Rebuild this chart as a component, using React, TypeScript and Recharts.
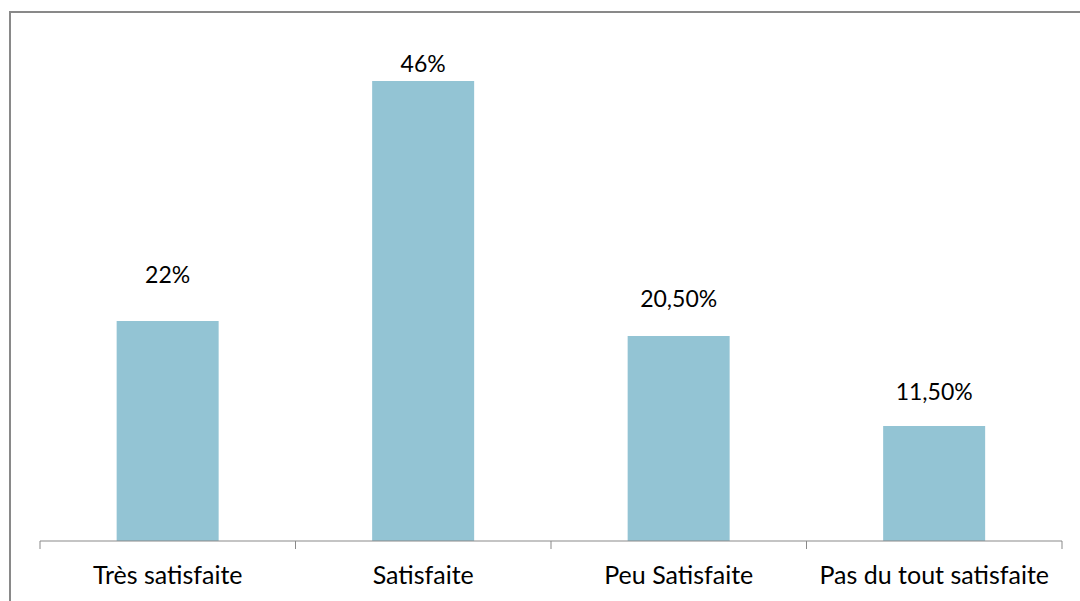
import React from "react";
import { BarChart, Bar, XAxis, YAxis, LabelList } from "recharts";

// Satisfaction survey results
const categories = ["Très satisfaite", "Satisfaite", "Peu Satisfaite", "Pas du tout satisfaite"];
const shares = [22, 46, 20.5, 11.5];
const shareLabels = ["22%", "46%", "20,50%", "11,50%"];

const data = categories.map((name, i) => ({ name, value: shares[i], label: shareLabels[i] }));

const FONT = "Lato, 'Open Sans', sans-serif";
const TEXT_COLOR = "#000000";
const AXIS_COLOR = "#898989";
const BAR_COLOR = "#93C4D4";
const LABEL_SIZE = 23;
const TICK_SIZE_TEXT = 25;
const TICK_MARGIN = 25;
const TICK_LENGTH = 8;

// Hand-placed label heights above each bar (gap between bar top and text baseline)
const labelGaps = [38, 9, 29, 26];

const ValueLabel = (props: any) => {
  const { x, y, width, index, value } = props;
  const gap = labelGaps[index] ?? 10;
  return (
    <text
      x={Number(x) + Number(width) / 2}
      y={Number(y) - gap}
      textAnchor="middle"
      fontFamily={FONT}
      fontSize={LABEL_SIZE}
      fill={TEXT_COLOR}
    >
      {value}
    </text>
  );
};

// Category name plus tick marks on the band boundaries
const CategoryTick = (props: any) => {
  const { x, y, payload, width, visibleTicksCount, index } = props;
  const half = Number(width) / Number(visibleTicksCount) / 2;
  const axisY = Number(y) - TICK_MARGIN;
  const last = index === visibleTicksCount - 1;
  return (
    <g>
      <line x1={x - half} x2={x - half} y1={axisY} y2={axisY + TICK_LENGTH} stroke={AXIS_COLOR} strokeWidth={1} />
      {last && (
        <line x1={x + half} x2={x + half} y1={axisY} y2={axisY + TICK_LENGTH} stroke={AXIS_COLOR} strokeWidth={1} />
      )}
      <text
        x={x}
        y={y}
        dy={TICK_SIZE_TEXT * 0.72}
        textAnchor="middle"
        fontFamily={FONT}
        fontSize={TICK_SIZE_TEXT}
        fill={TEXT_COLOR}
      >
        {payload.value}
      </text>
    </g>
  );
};

export default function App() {
  return (
    <div
      style={{
        position: "fixed",
        left: 0,
        top: 0,
        width: 1080,
        height: 601,
        overflow: "hidden",
        background: "#ffffff",
      }}
    >
      <div
        style={{
          position: "absolute",
          left: 9,
          top: 11,
          width: 1200,
          height: 700,
          border: `2px solid ${AXIS_COLOR}`,
          boxSizing: "border-box",
        }}
      />
      <div style={{ position: "absolute", left: 0, top: 0 }}>
        <BarChart
          width={1080}
          height={601}
          data={data}
          margin={{ top: 41, right: 18, bottom: 0, left: 40 }}
          barCategoryGap="30%"
        >
          <XAxis
            dataKey="name"
            height={60}
            tickLine={false}
            tickSize={0}
            tickMargin={TICK_MARGIN}
            axisLine={{ stroke: AXIS_COLOR, strokeWidth: 1 }}
            tick={<CategoryTick />}
            interval={0}
          />
          <YAxis hide domain={[0, 50]} />
          <Bar dataKey="value" fill={BAR_COLOR} isAnimationActive={false}>
            <LabelList dataKey="label" content={<ValueLabel />} />
          </Bar>
        </BarChart>
      </div>
    </div>
  );
}
